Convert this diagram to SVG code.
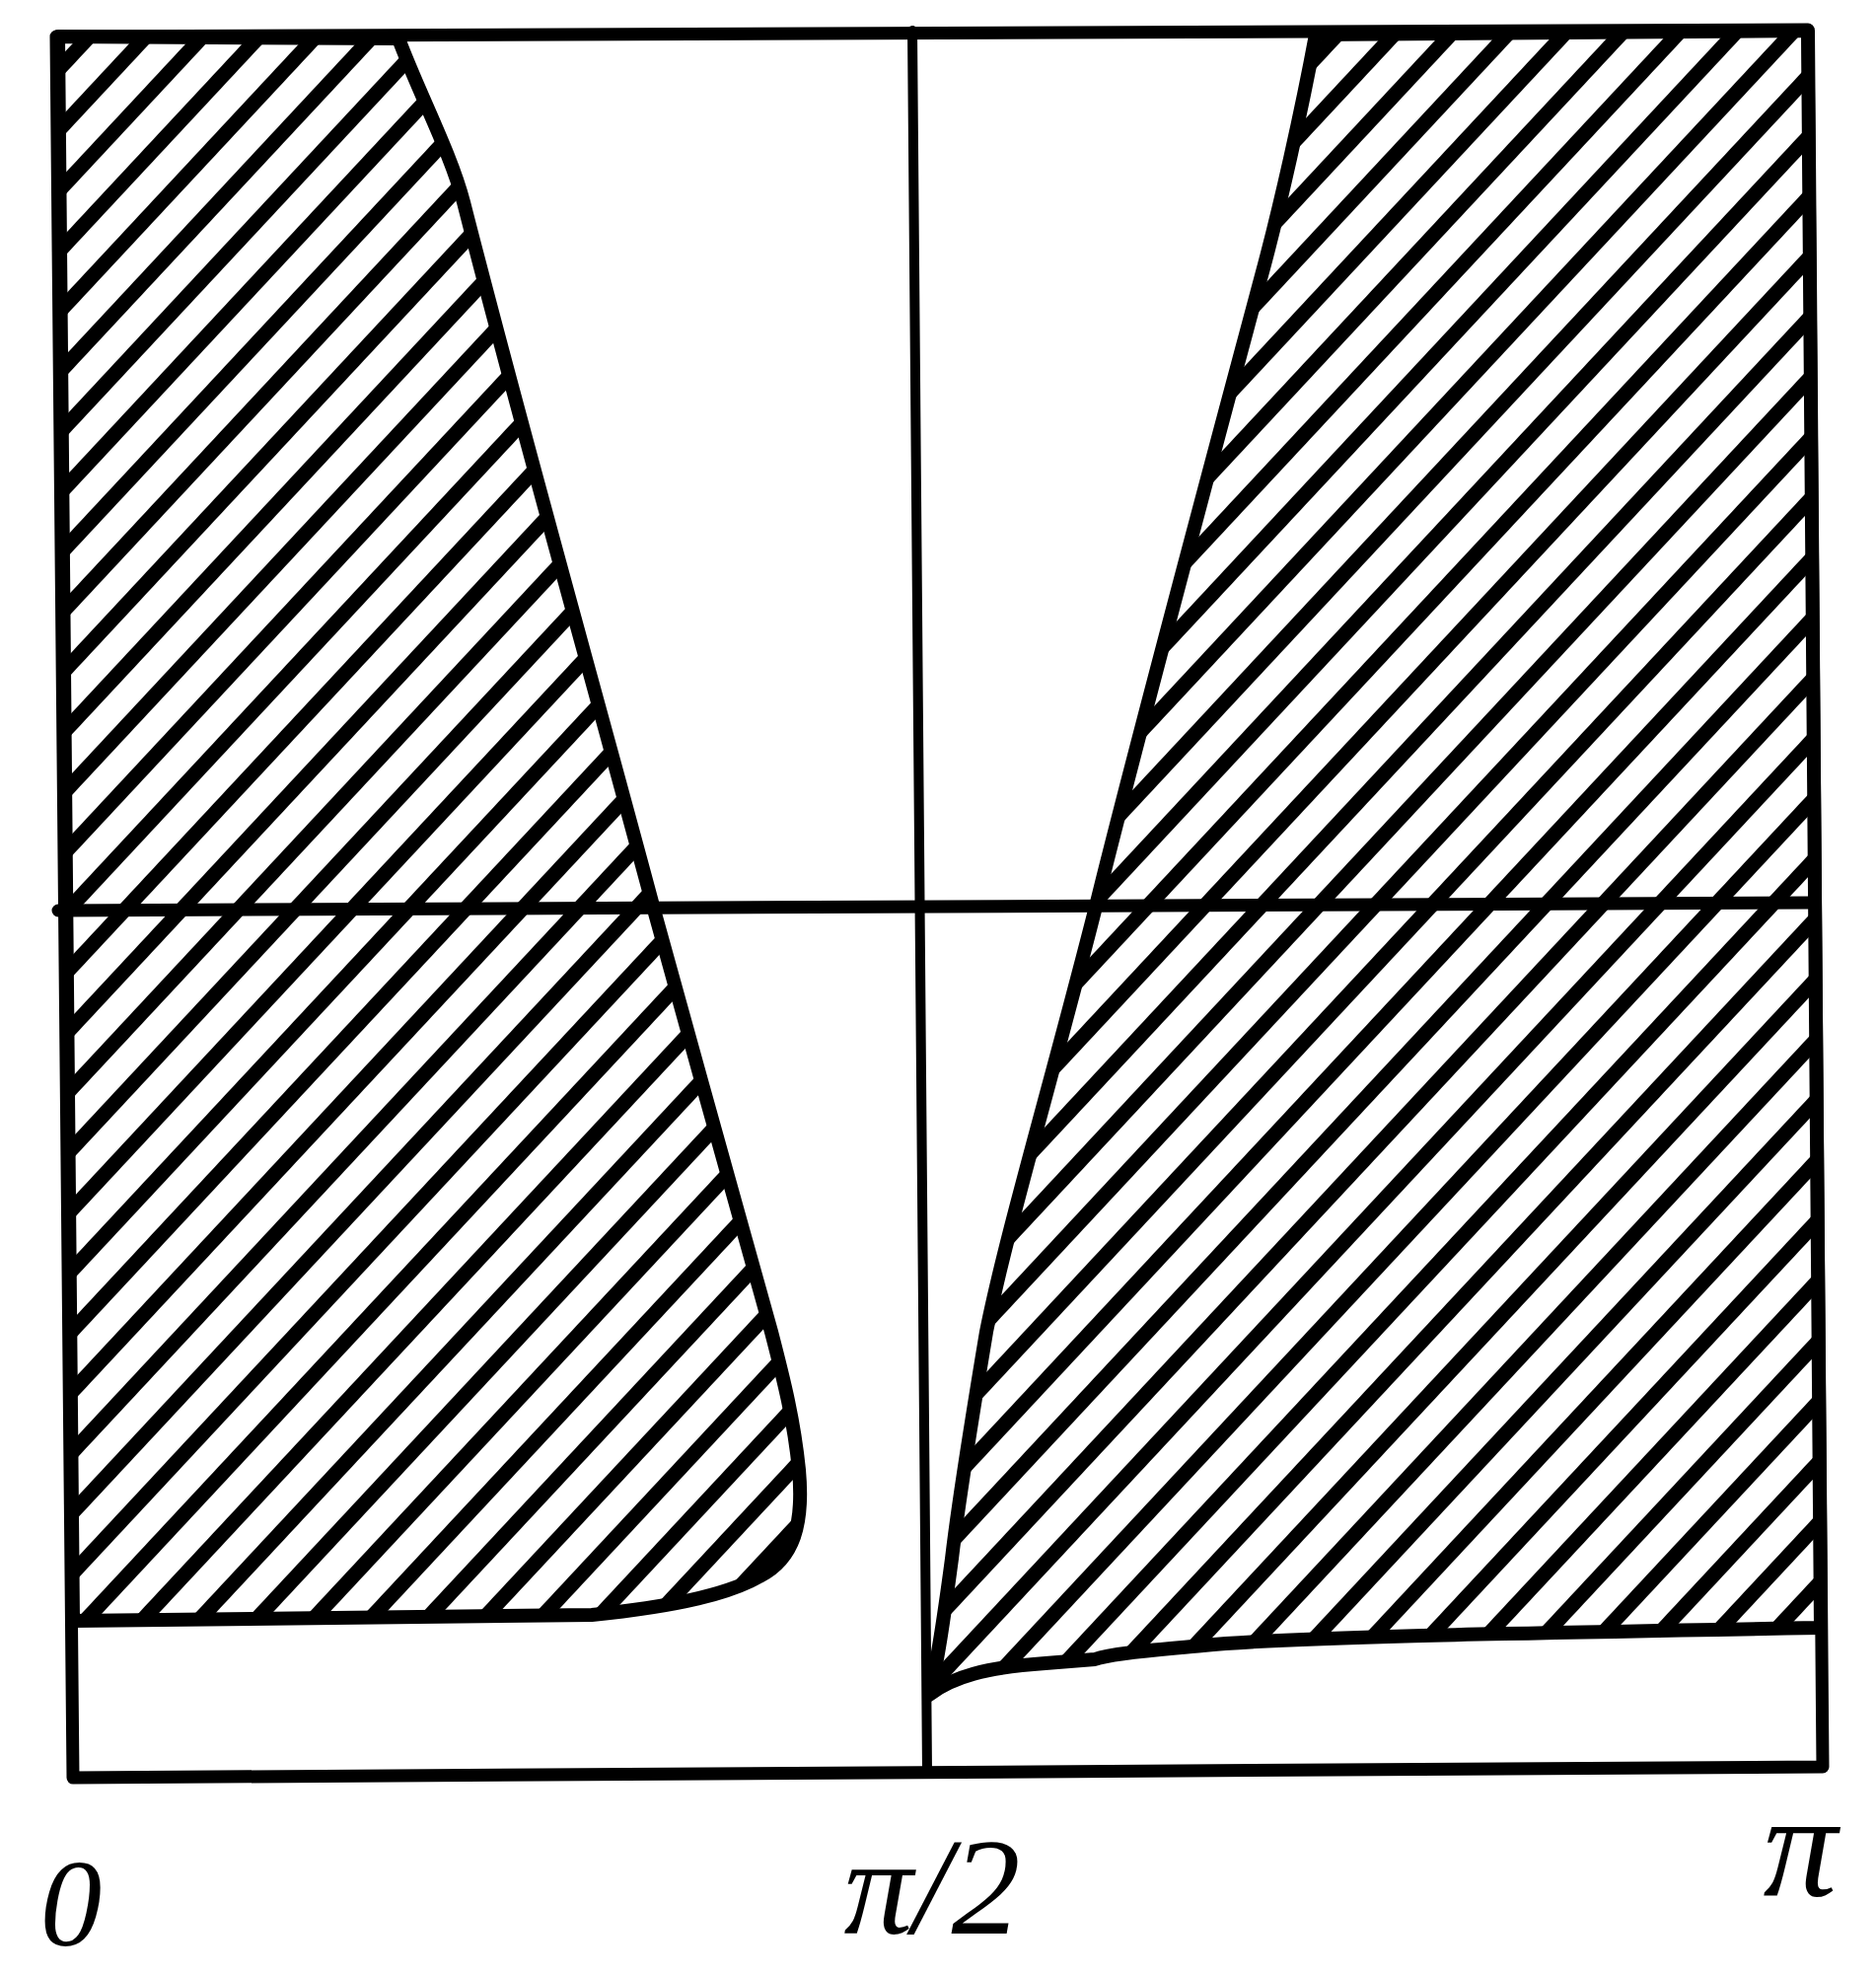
<svg xmlns="http://www.w3.org/2000/svg" width="1902" height="2001" viewBox="0 0 1902 2001">
<defs>
<pattern id="hatch" patternUnits="userSpaceOnUse" width="42" height="42" patternTransform="rotate(43)">
<rect x="0" y="0" width="15" height="42" fill="#000"/>
</pattern>
</defs>
<style>
.edge{fill:none;stroke:#000;stroke-width:13;stroke-linecap:round;stroke-linejoin:round}
.thin{fill:none;stroke:#000;stroke-width:10;stroke-linecap:round}
.region{fill:url(#hatch);stroke:#000;stroke-width:14;stroke-linejoin:round}
.lbl{font-family:"Liberation Serif",serif;font-style:italic;fill:#000;text-anchor:middle}
</style>
<rect width="1902" height="2001" fill="#fff"/>
<g id="hatch-left">
<path class="region" d="M 59,37 L 404,39 C 425,95 457,155 470,205 C 530,440 605,705 663,922 C 700,1060 750,1230 782,1350 C 795,1400 805,1440 810,1490 C 815,1545 805,1580 770,1598 C 740,1615 690,1628 600,1637 L 74,1643 Z"/>
</g>
<g id="hatch-right">
<path class="region" d="M 1334,35 C 1320,110 1298,210 1278,283 C 1220,500 1150,760 1111,919 C 1065,1100 1020,1250 1000,1350 C 985,1440 972,1520 965,1580 C 957,1640 950,1690 942,1718 C 965,1700 1000,1690 1060,1686 L 1110,1682 C 1130,1675 1180,1672 1220,1668 C 1300,1660 1500,1656 1846,1650 L 1833,31 Z"/>
</g>
<g id="frame">
<path class="edge" d="M 57,37 L 1833,30 L 1848,1791 L 74,1802 Z"/>
</g>
<g id="connectors">
<path class="thin" d="M 925,31 L 940,1797"/>
<path class="edge" d="M 59,923 L 1840,915"/>
</g>
<g id="labels">
<text class="lbl" x="72" y="1972" font-size="125">0</text>
<text class="lbl" x="945" y="1960" font-size="140">π/2</text>
<text class="lbl" x="1825" y="1922" font-size="150">π</text>
</g>
</svg>
